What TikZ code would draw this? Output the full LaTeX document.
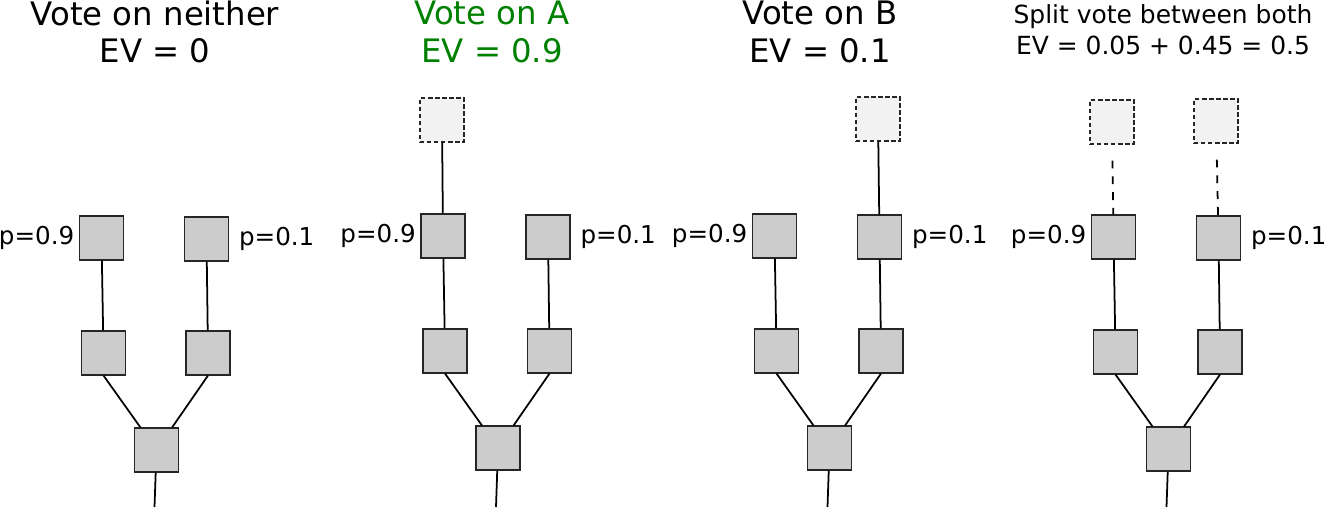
\documentclass[tikz,border=0pt]{standalone}
\usepackage{fontspec}
\setmainfont{DejaVu Sans}
\usetikzlibrary{calc, positioning}
\definecolor{votegreen}{RGB}{0,128,0}
\begin{document}
\begin{tikzpicture}[
    x=0.02cm, y=-0.02cm,
    blk/.style={draw=black!85, line width=0.6pt, fill=black!20, minimum size=0.88cm, inner sep=0pt},
    ghost/.style={blk, fill=black!5, dash pattern=on 2.5pt off 1.5pt},
    link/.style={line width=1pt},
    ghostlink/.style={link, dash pattern=on 4.5pt off 4.5pt, shorten <=0.32cm},
    prob/.style={font=\fontsize{14}{16}\selectfont, inner sep=2.5pt},
    heading/.style={align=center, font=\fontsize{18.4}{21.5}\selectfont},
    smallheading/.style={align=center, font=\fontsize{14.2}{17.5}\selectfont}
]
\useasboundingbox (0,0) rectangle (1324,507);
\node[heading] (t1) at (155,32) {Vote on neither\\EV = 0};
\node[heading, text=votegreen] (t2) at (492,32) {Vote on A\\EV = 0.9};
\node[heading] (t3) at (820,32) {Vote on B\\EV = 0.1};
\node[smallheading] (t4) at (1163,30) {Split vote between both\\EV = 0.05 + 0.45 = 0.5};
\foreach \n/\px/\py in {1/101.5/238, 2/443/236, 3/774.5/236, 4/1113.5/237} {
  \node[blk, label={[prob]left:p=0.9}] (tl\n) at (\px,\py) {};
  \node[blk, label={[prob, label distance=3pt]right:p=0.1}] (tr\n) at (\px+105,\py+1) {};
  \node[blk] (ml\n) at (\px+2,\py+115) {};
  \node[blk] (mr\n) at (\px+106.5,\py+115) {};
  \node[blk] (b\n) at (\px+55,\py+212) {};
  \coordinate (root\n) at (\px+53,507);
  \draw[link] (tl\n) -- (ml\n);
  \draw[link] (tr\n) -- (mr\n);
  \draw[link] (ml\n.south) -- (b\n);
  \draw[link] (mr\n.south) -- (b\n);
  \draw[link] (b\n) -- (root\n);
}
\node[ghost] (ga2) at (442,120) {};
\node[ghost] (gb3) at (878,119) {};
\node[ghost] (ga4) at (1112,122) {};
\node[ghost] (gb4) at (1216,121) {};
\draw[link] (ga2) -- (tl2);
\draw[link] (gb3) -- (tr3);
\draw[ghostlink] (ga4) -- (tl4);
\draw[ghostlink] (gb4) -- (tr4);
\end{tikzpicture}
\end{document}
